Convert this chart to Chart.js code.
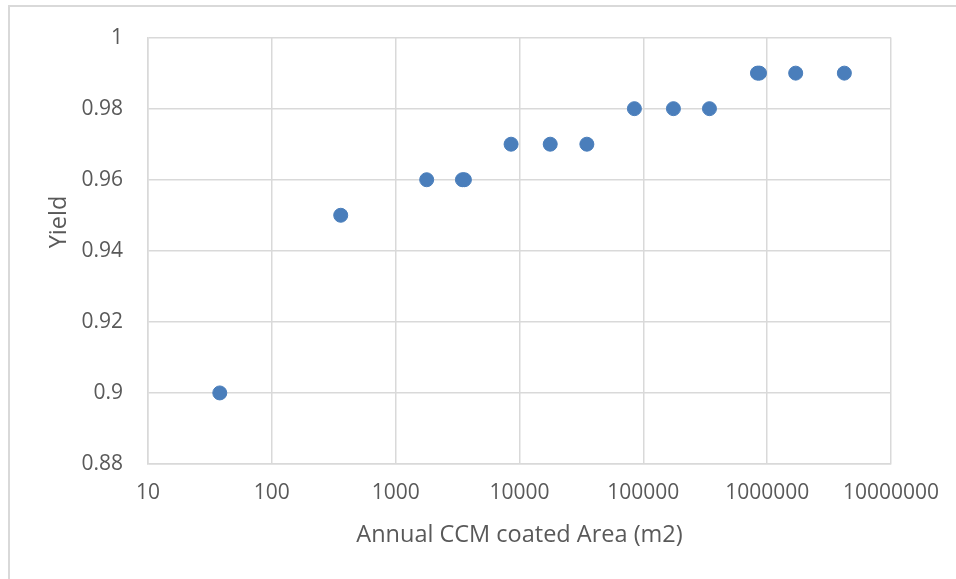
<!DOCTYPE html>
<html>
<head>
<meta charset="utf-8">
<script src="https://cdn.jsdelivr.net/npm/chart.js@4/dist/chart.umd.min.js"></script>
<style>
  html, body { margin: 0; padding: 0; background: #ffffff; overflow: hidden; }
  #wrap { position: relative; width: 956px; height: 579px; }
  #frame { position: absolute; left: 8px; top: 5px; width: 1000px; height: 640px;
           border-left: 2px solid #d9d9d9; border-top: 2px solid #d9d9d9; box-sizing: border-box; }
  canvas { position: absolute; left: 0; top: 0; }
</style>
</head>
<body>
<div id="wrap">
  <div id="frame"></div>
  <canvas id="c" width="956" height="579"></canvas>
</div>
<script>
// Annual coated area (m2) and the yield reached at each scale
const coatedArea = [38, 360, 1780, 3460, 3590, 8550, 17700, 35000, 84700, 175000, 342000, 835000, 867000, 1700000, 4200000];
const yieldValues = [0.90, 0.95, 0.96, 0.96, 0.96, 0.97, 0.97, 0.97, 0.98, 0.98, 0.98, 0.99, 0.99, 0.99, 0.99];

const xTickValues = [10, 100, 1000, 10000, 100000, 1000000, 10000000];
const yTickValues = [0.88, 0.90, 0.92, 0.94, 0.96, 0.98, 1.00];
const yTickLabels = ['0.88', '0.9', '0.92', '0.94', '0.96', '0.98', '1'];

const xTitle = 'Annual CCM coated Area (m2)';
const yTitle = 'Yield';

const textColor = '#595959';
const gridColor = '#d9d9d9';
const fontFamily = "'Open Sans', 'Liberation Sans', sans-serif";

// Axis titles placed by hand, in the style of a spreadsheet chart
const axisTitles = {
  id: 'axisTitles',
  afterDraw(chart) {
    const ctx = chart.ctx;
    const area = chart.chartArea;
    ctx.save();
    ctx.fillStyle = textColor;
    ctx.textAlign = 'center';
    ctx.textBaseline = 'middle';
    ctx.font = '23.5px ' + fontFamily;
    ctx.fillText(xTitle, (area.left + area.right) / 2, 535);
    ctx.translate(59, 222);
    ctx.rotate(-Math.PI / 2);
    ctx.fillText(yTitle, 0, 0);
    ctx.restore();
  }
};

new Chart(document.getElementById('c'), {
  type: 'scatter',
  data: {
    datasets: [{
      data: coatedArea.map((x, i) => ({ x: x, y: yieldValues[i] })),
      backgroundColor: '#4a7ebb',
      borderColor: '#4a7ebb',
      borderWidth: 1,
      pointRadius: 7,
      pointHoverRadius: 7
    }]
  },
  options: {
    responsive: false,
    animation: false,
    events: [],
    layout: { padding: { top: 35, right: 65, left: 0, bottom: 0 } },
    plugins: { legend: { display: false }, tooltip: { enabled: false } },
    scales: {
      x: {
        type: 'logarithmic',
        min: 10,
        max: 10000000,
        afterBuildTicks(scale) { scale.ticks = xTickValues.map(v => ({ value: v })); },
        afterFit(scale) { scale.height = 115; },
        ticks: {
          color: textColor,
          font: { family: fontFamily, size: 21 },
          padding: 16,
          maxRotation: 0,
          autoSkip: false,
          callback: (v) => String(v)
        },
        grid: { color: gridColor, lineWidth: 1.5, drawTicks: false },
        border: { color: gridColor, width: 1.5 }
      },
      y: {
        min: 0.88,
        max: 1.0,
        afterBuildTicks(scale) { scale.ticks = yTickValues.map(v => ({ value: v })); },
        afterFit(scale) { scale.width = 148; },
        ticks: {
          color: textColor,
          font: { family: fontFamily, size: 21 },
          padding: 25,
          callback: (v) => {
            const i = yTickValues.findIndex(t => Math.abs(t - v) < 1e-9);
            return i >= 0 ? yTickLabels[i] : '';
          }
        },
        grid: { color: gridColor, lineWidth: 1.5, drawTicks: false },
        border: { color: gridColor, width: 1.5 }
      }
    }
  },
  plugins: [axisTitles]
});
</script>
</body>
</html>
